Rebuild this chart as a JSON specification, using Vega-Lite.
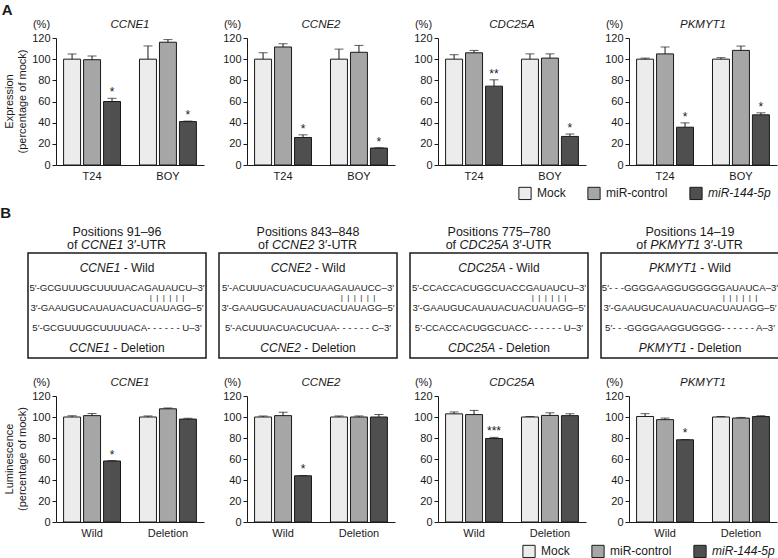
{
  "$schema": "https://vega.github.io/schema/vega-lite/v6.json",
  "padding": {"left": 0, "top": 3, "right": 1, "bottom": 1},
  "background": "white",
  "datasets": {
    "bars": [
      {"panel": "A", "gene": "CCNE1", "group": "T24", "cond": "Mock", "value": 100, "upper": 105, "sig": ""},
      {"panel": "A", "gene": "CCNE1", "group": "T24", "cond": "miR-control", "value": 99.5, "upper": 103, "sig": ""},
      {"panel": "A", "gene": "CCNE1", "group": "T24", "cond": "miR-144-5p", "value": 60, "upper": 63, "sig": "*"},
      {"panel": "A", "gene": "CCNE1", "group": "BOY", "cond": "Mock", "value": 100, "upper": 112.5, "sig": ""},
      {"panel": "A", "gene": "CCNE1", "group": "BOY", "cond": "miR-control", "value": 116, "upper": 118.5, "sig": ""},
      {"panel": "A", "gene": "CCNE1", "group": "BOY", "cond": "miR-144-5p", "value": 41, "upper": 41.5, "sig": "*"},
      {"panel": "A", "gene": "CCNE2", "group": "T24", "cond": "Mock", "value": 100, "upper": 106, "sig": ""},
      {"panel": "A", "gene": "CCNE2", "group": "T24", "cond": "miR-control", "value": 111.5, "upper": 114.5, "sig": ""},
      {"panel": "A", "gene": "CCNE2", "group": "T24", "cond": "miR-144-5p", "value": 26, "upper": 28.5, "sig": "*"},
      {"panel": "A", "gene": "CCNE2", "group": "BOY", "cond": "Mock", "value": 100, "upper": 109.5, "sig": ""},
      {"panel": "A", "gene": "CCNE2", "group": "BOY", "cond": "miR-control", "value": 106.5, "upper": 113, "sig": ""},
      {"panel": "A", "gene": "CCNE2", "group": "BOY", "cond": "miR-144-5p", "value": 16, "upper": 16.3, "sig": "*"},
      {"panel": "A", "gene": "CDC25A", "group": "T24", "cond": "Mock", "value": 100, "upper": 104.2, "sig": ""},
      {"panel": "A", "gene": "CDC25A", "group": "T24", "cond": "miR-control", "value": 106, "upper": 108.3, "sig": ""},
      {"panel": "A", "gene": "CDC25A", "group": "T24", "cond": "miR-144-5p", "value": 74.5, "upper": 80.5, "sig": "**"},
      {"panel": "A", "gene": "CDC25A", "group": "BOY", "cond": "Mock", "value": 100, "upper": 105, "sig": ""},
      {"panel": "A", "gene": "CDC25A", "group": "BOY", "cond": "miR-control", "value": 101, "upper": 105, "sig": ""},
      {"panel": "A", "gene": "CDC25A", "group": "BOY", "cond": "miR-144-5p", "value": 27, "upper": 29.4, "sig": "*"},
      {"panel": "A", "gene": "PKMYT1", "group": "T24", "cond": "Mock", "value": 100, "upper": 101, "sig": ""},
      {"panel": "A", "gene": "PKMYT1", "group": "T24", "cond": "miR-control", "value": 105, "upper": 111.5, "sig": ""},
      {"panel": "A", "gene": "PKMYT1", "group": "T24", "cond": "miR-144-5p", "value": 35.7, "upper": 39.8, "sig": "*"},
      {"panel": "A", "gene": "PKMYT1", "group": "BOY", "cond": "Mock", "value": 100, "upper": 101.4, "sig": ""},
      {"panel": "A", "gene": "PKMYT1", "group": "BOY", "cond": "miR-control", "value": 108.3, "upper": 112.4, "sig": ""},
      {"panel": "A", "gene": "PKMYT1", "group": "BOY", "cond": "miR-144-5p", "value": 47.4, "upper": 49.3, "sig": "*"},
      {"panel": "B", "gene": "CCNE1", "group": "Wild", "cond": "Mock", "value": 100, "upper": 101.2, "sig": ""},
      {"panel": "B", "gene": "CCNE1", "group": "Wild", "cond": "miR-control", "value": 101.3, "upper": 103.3, "sig": ""},
      {"panel": "B", "gene": "CCNE1", "group": "Wild", "cond": "miR-144-5p", "value": 58.1, "upper": 58.5, "sig": "*"},
      {"panel": "B", "gene": "CCNE1", "group": "Deletion", "cond": "Mock", "value": 100, "upper": 101, "sig": ""},
      {"panel": "B", "gene": "CCNE1", "group": "Deletion", "cond": "miR-control", "value": 107.8, "upper": 108.6, "sig": ""},
      {"panel": "B", "gene": "CCNE1", "group": "Deletion", "cond": "miR-144-5p", "value": 98, "upper": 98.8, "sig": ""},
      {"panel": "B", "gene": "CCNE2", "group": "Wild", "cond": "Mock", "value": 100, "upper": 101, "sig": ""},
      {"panel": "B", "gene": "CCNE2", "group": "Wild", "cond": "miR-control", "value": 101.3, "upper": 104.5, "sig": ""},
      {"panel": "B", "gene": "CCNE2", "group": "Wild", "cond": "miR-144-5p", "value": 44, "upper": 44.3, "sig": "*"},
      {"panel": "B", "gene": "CCNE2", "group": "Deletion", "cond": "Mock", "value": 100, "upper": 101, "sig": ""},
      {"panel": "B", "gene": "CCNE2", "group": "Deletion", "cond": "miR-control", "value": 100, "upper": 101, "sig": ""},
      {"panel": "B", "gene": "CCNE2", "group": "Deletion", "cond": "miR-144-5p", "value": 100, "upper": 102.5, "sig": ""},
      {"panel": "B", "gene": "CDC25A", "group": "Wild", "cond": "Mock", "value": 103, "upper": 104.8, "sig": ""},
      {"panel": "B", "gene": "CDC25A", "group": "Wild", "cond": "miR-control", "value": 102.3, "upper": 106.3, "sig": ""},
      {"panel": "B", "gene": "CDC25A", "group": "Wild", "cond": "miR-144-5p", "value": 79.5, "upper": 80.6, "sig": "***"},
      {"panel": "B", "gene": "CDC25A", "group": "Deletion", "cond": "Mock", "value": 100, "upper": 100.5, "sig": ""},
      {"panel": "B", "gene": "CDC25A", "group": "Deletion", "cond": "miR-control", "value": 101.5, "upper": 104, "sig": ""},
      {"panel": "B", "gene": "CDC25A", "group": "Deletion", "cond": "miR-144-5p", "value": 101.3, "upper": 103, "sig": ""},
      {"panel": "B", "gene": "PKMYT1", "group": "Wild", "cond": "Mock", "value": 100.5, "upper": 103.2, "sig": ""},
      {"panel": "B", "gene": "PKMYT1", "group": "Wild", "cond": "miR-control", "value": 97.5, "upper": 99, "sig": ""},
      {"panel": "B", "gene": "PKMYT1", "group": "Wild", "cond": "miR-144-5p", "value": 78.3, "upper": 78.6, "sig": "*"},
      {"panel": "B", "gene": "PKMYT1", "group": "Deletion", "cond": "Mock", "value": 100, "upper": 100.5, "sig": ""},
      {"panel": "B", "gene": "PKMYT1", "group": "Deletion", "cond": "miR-control", "value": 99, "upper": 99.6, "sig": ""},
      {"panel": "B", "gene": "PKMYT1", "group": "Deletion", "cond": "miR-144-5p", "value": 100.4, "upper": 101.2, "sig": ""}
    ],
    "boxes": [
      {"gene": "CCNE1", "pos": "Positions 91–96", "wt": "5′-GCGUUUGCUUUUACAGAUAUCU–3′", "mir": "3′-GAAUGUCAUAUACUACUAUAGG–5′", "del": "5′-GCGUUUGCUUUUACA- - - - - - U–3′"},
      {"gene": "CCNE2", "pos": "Positions 843–848", "wt": "5′-ACUUUACUACUCUAAGAUAUCC–3′", "mir": "3′-GAAUGUCAUAUACUACUAUAGG–5′", "del": "5′-ACUUUACUACUCUAA- - - - - - C–3′"},
      {"gene": "CDC25A", "pos": "Positions 775–780", "wt": "5′-CCACCACUGGCUACCGAUAUCU–3′", "mir": "3′-GAAUGUCAUAUACUACUAUAGG–5′", "del": "5′-CCACCACUGGCUACC- - - - - - U–3′"},
      {"gene": "PKMYT1", "pos": "Positions 14–19", "wt": "5′- - -GGGGAAGGUGGGGGAUAUCA–3′", "mir": "3′-GAAUGUCAUAUACUACUAUAGG–5′", "del": "5′- - -GGGGAAGGUGGGG- - - - - - A–3′"}
    ],
    "spacer": [{"k": 1}]
  },
  "config": {
    "view": {"stroke": null},
    "font": "Liberation Sans",
    "text": {"font": "Liberation Sans", "color": "#1a1a1a"},
    "axis": {"labelFont": "Liberation Sans", "labelFontSize": 11, "labelColor": "#1a1a1a", "titleFont": "Liberation Sans", "titleFontSize": 11, "titleFontWeight": "normal", "titleColor": "#1a1a1a", "domainColor": "#1a1a1a", "tickColor": "#1a1a1a", "grid": false},
    "axisY": {"tickSize": 4, "labelPadding": 2},
    "axisX": {"ticks": false, "labelPadding": 5, "labelAngle": 0},
    "title": {"font": "Liberation Sans", "fontSize": 11.5, "fontStyle": "italic", "fontWeight": "normal", "color": "#1a1a1a", "frame": "group", "baseline": "alphabetic", "offset": -12},
    "legend": {"symbolType": "square", "symbolSize": 150, "symbolStrokeColor": "#1a1a1a", "symbolStrokeWidth": 1, "labelFont": "Liberation Sans", "labelFontSize": 12, "labelColor": "#1a1a1a", "labelOffset": 5, "columnPadding": 19}
  },
  "spacing": 17,
  "vconcat": [
    {
      "spacing": 25,
      "vconcat": [
        {
          "title": {"text": "A", "anchor": "start", "frame": "bounds", "fontSize": 15, "fontWeight": "bold", "fontStyle": "normal", "offset": 0, "dx": -2},
          "bounds": "flush",
          "spacing": 27,
          "hconcat": [
            {
              "width": 1, "height": 127,
              "title": {"text": ["Expression", "(percentage of mock)"], "orient": "left", "anchor": "middle", "frame": "group", "fontSize": 11, "fontStyle": "normal", "lineHeight": 13, "baseline": "bottom", "offset": -13},
              "data": {"name": "spacer"},
              "mark": {"type": "point", "opacity": 0},
              "encoding": {}
            },
            {
              "bounds": "flush",
              "spacing": 43,
              "hconcat": [
                {
                  "width": 148, "height": 127, "title": "CCNE1",
                  "data": {"name": "bars"},
                  "transform": [{"filter": "datum.panel == 'A' && datum.gene == 'CCNE1'"}],
                  "encoding": {
                    "x": {"field": "group", "type": "nominal", "sort": ["T24", "BOY"], "scale": {"paddingInner": 0.25, "paddingOuter": 0.1}, "axis": {"title": null}},
                    "xOffset": {"field": "cond", "type": "nominal", "sort": ["Mock", "miR-control", "miR-144-5p"], "scale": {"paddingInner": 0.15, "paddingOuter": 0}}
                  },
                  "layer": [
                    {"mark": {"type": "bar", "stroke": "#1a1a1a", "strokeWidth": 1},
                     "encoding": {
                       "y": {"field": "value", "type": "quantitative", "scale": {"domain": [0, 120], "nice": false}, "axis": {"title": "(%)", "orient": "left", "values": [0, 20, 40, 60, 80, 100, 120], "titleAngle": 0, "titleX": -15, "titleY": -14, "titleAlign": "center", "titleBaseline": "middle"}},
                       "fill": {"field": "cond", "type": "nominal", "sort": ["Mock", "miR-control", "miR-144-5p"], "scale": {"domain": ["Mock", "miR-control", "miR-144-5p"], "range": ["#ececec", "#a6a6a6", "#4f4f4f"]}, "legend": {"orient": "none", "legendX": 490, "legendY": 148, "direction": "horizontal", "title": null, "labelFontStyle": {"expr": "datum.value == 'miR-144-5p' ? 'italic' : 'normal'"}}}
                     }},
                    {"mark": {"type": "rule", "color": "#1a1a1a", "strokeWidth": 1},
                     "encoding": {"y": {"field": "value", "type": "quantitative", "axis": null}, "y2": {"field": "upper"}}},
                    {"mark": {"type": "tick", "color": "#1a1a1a", "thickness": 1, "size": 9},
                     "encoding": {"y": {"field": "upper", "type": "quantitative", "axis": null}}},
                    {"mark": {"type": "text", "baseline": "alphabetic", "dy": -2, "fontSize": 12},
                     "encoding": {"y": {"field": "upper", "type": "quantitative", "axis": null}, "text": {"field": "sig"}}}
                  ],
                  "resolve": {"axis": {"y": "independent"}}
                },
                {
                  "width": 148, "height": 127, "title": "CCNE2",
                  "data": {"name": "bars"},
                  "transform": [{"filter": "datum.panel == 'A' && datum.gene == 'CCNE2'"}],
                  "encoding": {
                    "x": {"field": "group", "type": "nominal", "sort": ["T24", "BOY"], "scale": {"paddingInner": 0.25, "paddingOuter": 0.1}, "axis": {"title": null}},
                    "xOffset": {"field": "cond", "type": "nominal", "sort": ["Mock", "miR-control", "miR-144-5p"], "scale": {"paddingInner": 0.15, "paddingOuter": 0}}
                  },
                  "layer": [
                    {"mark": {"type": "bar", "stroke": "#1a1a1a", "strokeWidth": 1},
                     "encoding": {
                       "y": {"field": "value", "type": "quantitative", "scale": {"domain": [0, 120], "nice": false}, "axis": {"title": "(%)", "orient": "left", "values": [0, 20, 40, 60, 80, 100, 120], "titleAngle": 0, "titleX": -15, "titleY": -14, "titleAlign": "center", "titleBaseline": "middle"}},
                       "fill": {"field": "cond", "type": "nominal", "sort": ["Mock", "miR-control", "miR-144-5p"], "scale": {"domain": ["Mock", "miR-control", "miR-144-5p"], "range": ["#ececec", "#a6a6a6", "#4f4f4f"]}, "legend": {"orient": "none", "legendX": 490, "legendY": 148, "direction": "horizontal", "title": null, "labelFontStyle": {"expr": "datum.value == 'miR-144-5p' ? 'italic' : 'normal'"}}}
                     }},
                    {"mark": {"type": "rule", "color": "#1a1a1a", "strokeWidth": 1},
                     "encoding": {"y": {"field": "value", "type": "quantitative", "axis": null}, "y2": {"field": "upper"}}},
                    {"mark": {"type": "tick", "color": "#1a1a1a", "thickness": 1, "size": 9},
                     "encoding": {"y": {"field": "upper", "type": "quantitative", "axis": null}}},
                    {"mark": {"type": "text", "baseline": "alphabetic", "dy": -2, "fontSize": 12},
                     "encoding": {"y": {"field": "upper", "type": "quantitative", "axis": null}, "text": {"field": "sig"}}}
                  ],
                  "resolve": {"axis": {"y": "independent"}}
                },
                {
                  "width": 148, "height": 127, "title": "CDC25A",
                  "data": {"name": "bars"},
                  "transform": [{"filter": "datum.panel == 'A' && datum.gene == 'CDC25A'"}],
                  "encoding": {
                    "x": {"field": "group", "type": "nominal", "sort": ["T24", "BOY"], "scale": {"paddingInner": 0.25, "paddingOuter": 0.1}, "axis": {"title": null}},
                    "xOffset": {"field": "cond", "type": "nominal", "sort": ["Mock", "miR-control", "miR-144-5p"], "scale": {"paddingInner": 0.15, "paddingOuter": 0}}
                  },
                  "layer": [
                    {"mark": {"type": "bar", "stroke": "#1a1a1a", "strokeWidth": 1},
                     "encoding": {
                       "y": {"field": "value", "type": "quantitative", "scale": {"domain": [0, 120], "nice": false}, "axis": {"title": "(%)", "orient": "left", "values": [0, 20, 40, 60, 80, 100, 120], "titleAngle": 0, "titleX": -15, "titleY": -14, "titleAlign": "center", "titleBaseline": "middle"}},
                       "fill": {"field": "cond", "type": "nominal", "sort": ["Mock", "miR-control", "miR-144-5p"], "scale": {"domain": ["Mock", "miR-control", "miR-144-5p"], "range": ["#ececec", "#a6a6a6", "#4f4f4f"]}, "legend": {"orient": "none", "legendX": 490, "legendY": 148, "direction": "horizontal", "title": null, "labelFontStyle": {"expr": "datum.value == 'miR-144-5p' ? 'italic' : 'normal'"}}}
                     }},
                    {"mark": {"type": "rule", "color": "#1a1a1a", "strokeWidth": 1},
                     "encoding": {"y": {"field": "value", "type": "quantitative", "axis": null}, "y2": {"field": "upper"}}},
                    {"mark": {"type": "tick", "color": "#1a1a1a", "thickness": 1, "size": 9},
                     "encoding": {"y": {"field": "upper", "type": "quantitative", "axis": null}}},
                    {"mark": {"type": "text", "baseline": "alphabetic", "dy": -2, "fontSize": 12},
                     "encoding": {"y": {"field": "upper", "type": "quantitative", "axis": null}, "text": {"field": "sig"}}}
                  ],
                  "resolve": {"axis": {"y": "independent"}}
                },
                {
                  "width": 148, "height": 127, "title": "PKMYT1",
                  "data": {"name": "bars"},
                  "transform": [{"filter": "datum.panel == 'A' && datum.gene == 'PKMYT1'"}],
                  "encoding": {
                    "x": {"field": "group", "type": "nominal", "sort": ["T24", "BOY"], "scale": {"paddingInner": 0.25, "paddingOuter": 0.1}, "axis": {"title": null}},
                    "xOffset": {"field": "cond", "type": "nominal", "sort": ["Mock", "miR-control", "miR-144-5p"], "scale": {"paddingInner": 0.15, "paddingOuter": 0}}
                  },
                  "layer": [
                    {"mark": {"type": "bar", "stroke": "#1a1a1a", "strokeWidth": 1},
                     "encoding": {
                       "y": {"field": "value", "type": "quantitative", "scale": {"domain": [0, 120], "nice": false}, "axis": {"title": "(%)", "orient": "left", "values": [0, 20, 40, 60, 80, 100, 120], "titleAngle": 0, "titleX": -15, "titleY": -14, "titleAlign": "center", "titleBaseline": "middle"}},
                       "fill": {"field": "cond", "type": "nominal", "sort": ["Mock", "miR-control", "miR-144-5p"], "scale": {"domain": ["Mock", "miR-control", "miR-144-5p"], "range": ["#ececec", "#a6a6a6", "#4f4f4f"]}, "legend": {"orient": "none", "legendX": 490, "legendY": 148, "direction": "horizontal", "title": null, "labelFontStyle": {"expr": "datum.value == 'miR-144-5p' ? 'italic' : 'normal'"}}}
                     }},
                    {"mark": {"type": "rule", "color": "#1a1a1a", "strokeWidth": 1},
                     "encoding": {"y": {"field": "value", "type": "quantitative", "axis": null}, "y2": {"field": "upper"}}},
                    {"mark": {"type": "tick", "color": "#1a1a1a", "thickness": 1, "size": 9},
                     "encoding": {"y": {"field": "upper", "type": "quantitative", "axis": null}}},
                    {"mark": {"type": "text", "baseline": "alphabetic", "dy": -2, "fontSize": 12},
                     "encoding": {"y": {"field": "upper", "type": "quantitative", "axis": null}, "text": {"field": "sig"}}}
                  ],
                  "resolve": {"axis": {"y": "independent"}}
                }
              ]
            }
          ]
        },
        {
          "title": {"text": "B", "anchor": "start", "frame": "bounds", "fontSize": 15, "fontWeight": "bold", "fontStyle": "normal", "offset": 4, "dx": -27},
          "spacing": 11,
          "hconcat": [
            {
              "spacing": 1,
              "vconcat": [
                {
                  "width": 178, "height": 26,
                  "data": {"name": "boxes"},
                  "transform": [{"filter": "datum.gene == 'CCNE1'"}],
                  "layer": [
                    {"mark": {"type": "text", "fontSize": 12.5}, "encoding": {"y": {"datum": "p1", "type": "ordinal", "scale": {"type": "point", "domain": ["p1", "p2"], "padding": 0.5}, "axis": null}, "text": {"field": "pos"}}},
                    {"mark": {"type": "text", "fontSize": 12.5, "align": "right", "dx": -39.45}, "encoding": {"y": {"datum": "p2", "type": "ordinal"}, "text": {"value": "of"}}},
                    {"mark": {"type": "text", "fontSize": 12.5, "fontStyle": "italic", "dx": -14.75}, "encoding": {"y": {"datum": "p2", "type": "ordinal"}, "text": {"field": "gene"}}},
                    {"mark": {"type": "text", "fontSize": 12.5, "align": "left", "dx": 9.95}, "encoding": {"y": {"datum": "p2", "type": "ordinal"}, "text": {"value": "3′-UTR"}}}
                  ]
                },
                {
                  "width": 178, "height": 105,
                  "view": {"stroke": "#1a1a1a", "strokeWidth": 1.5},
                  "data": {"name": "boxes"},
                  "transform": [{"filter": "datum.gene == 'CCNE1'"}],
                  "layer": [
                    {"mark": {"type": "text", "fontSize": 12, "fontStyle": "italic", "dx": -17}, "encoding": {"y": {"datum": "wild", "type": "ordinal", "scale": {"type": "point", "domain": ["wild", "s1", "s2", "s3", "del"], "padding": 0.625, "align": 0.6}, "axis": null}, "text": {"field": "gene"}}},
                    {"mark": {"type": "text", "fontSize": 12, "align": "left", "dx": 6.65}, "encoding": {"y": {"datum": "wild", "type": "ordinal"}, "text": {"value": "- Wild"}}},
                    {"mark": {"type": "text", "fontSize": 9.6}, "encoding": {"y": {"datum": "s1", "type": "ordinal"}, "text": {"field": "wt"}}},
                    {"mark": {"type": "text", "fontSize": 8, "dx": 50, "dy": -10}, "encoding": {"y": {"datum": "s2", "type": "ordinal"}, "text": {"value": "|\u00a0\u00a0|\u00a0\u00a0|\u00a0\u00a0|\u00a0\u00a0|\u00a0\u00a0|"}}},
                    {"mark": {"type": "text", "fontSize": 9.6}, "encoding": {"y": {"datum": "s2", "type": "ordinal"}, "text": {"field": "mir"}}},
                    {"mark": {"type": "text", "fontSize": 9.6}, "encoding": {"y": {"datum": "s3", "type": "ordinal"}, "text": {"field": "del"}}},
                    {"mark": {"type": "text", "fontSize": 12, "fontStyle": "italic", "dx": -27.3}, "encoding": {"y": {"datum": "del", "type": "ordinal"}, "text": {"field": "gene"}}},
                    {"mark": {"type": "text", "fontSize": 12, "align": "left", "dx": -3.65}, "encoding": {"y": {"datum": "del", "type": "ordinal"}, "text": {"value": "- Deletion"}}}
                  ]
                }
              ]
            },
            {
              "spacing": 1,
              "vconcat": [
                {
                  "width": 178, "height": 26,
                  "data": {"name": "boxes"},
                  "transform": [{"filter": "datum.gene == 'CCNE2'"}],
                  "layer": [
                    {"mark": {"type": "text", "fontSize": 12.5}, "encoding": {"y": {"datum": "p1", "type": "ordinal", "scale": {"type": "point", "domain": ["p1", "p2"], "padding": 0.5}, "axis": null}, "text": {"field": "pos"}}},
                    {"mark": {"type": "text", "fontSize": 12.5, "align": "right", "dx": -39.45}, "encoding": {"y": {"datum": "p2", "type": "ordinal"}, "text": {"value": "of"}}},
                    {"mark": {"type": "text", "fontSize": 12.5, "fontStyle": "italic", "dx": -14.75}, "encoding": {"y": {"datum": "p2", "type": "ordinal"}, "text": {"field": "gene"}}},
                    {"mark": {"type": "text", "fontSize": 12.5, "align": "left", "dx": 9.95}, "encoding": {"y": {"datum": "p2", "type": "ordinal"}, "text": {"value": "3′-UTR"}}}
                  ]
                },
                {
                  "width": 178, "height": 105,
                  "view": {"stroke": "#1a1a1a", "strokeWidth": 1.5},
                  "data": {"name": "boxes"},
                  "transform": [{"filter": "datum.gene == 'CCNE2'"}],
                  "layer": [
                    {"mark": {"type": "text", "fontSize": 12, "fontStyle": "italic", "dx": -17}, "encoding": {"y": {"datum": "wild", "type": "ordinal", "scale": {"type": "point", "domain": ["wild", "s1", "s2", "s3", "del"], "padding": 0.625, "align": 0.6}, "axis": null}, "text": {"field": "gene"}}},
                    {"mark": {"type": "text", "fontSize": 12, "align": "left", "dx": 6.65}, "encoding": {"y": {"datum": "wild", "type": "ordinal"}, "text": {"value": "- Wild"}}},
                    {"mark": {"type": "text", "fontSize": 9.6}, "encoding": {"y": {"datum": "s1", "type": "ordinal"}, "text": {"field": "wt"}}},
                    {"mark": {"type": "text", "fontSize": 8, "dx": 50, "dy": -10}, "encoding": {"y": {"datum": "s2", "type": "ordinal"}, "text": {"value": "|\u00a0\u00a0|\u00a0\u00a0|\u00a0\u00a0|\u00a0\u00a0|\u00a0\u00a0|"}}},
                    {"mark": {"type": "text", "fontSize": 9.6}, "encoding": {"y": {"datum": "s2", "type": "ordinal"}, "text": {"field": "mir"}}},
                    {"mark": {"type": "text", "fontSize": 9.6}, "encoding": {"y": {"datum": "s3", "type": "ordinal"}, "text": {"field": "del"}}},
                    {"mark": {"type": "text", "fontSize": 12, "fontStyle": "italic", "dx": -27.3}, "encoding": {"y": {"datum": "del", "type": "ordinal"}, "text": {"field": "gene"}}},
                    {"mark": {"type": "text", "fontSize": 12, "align": "left", "dx": -3.65}, "encoding": {"y": {"datum": "del", "type": "ordinal"}, "text": {"value": "- Deletion"}}}
                  ]
                }
              ]
            },
            {
              "spacing": 1,
              "vconcat": [
                {
                  "width": 178, "height": 26,
                  "data": {"name": "boxes"},
                  "transform": [{"filter": "datum.gene == 'CDC25A'"}],
                  "layer": [
                    {"mark": {"type": "text", "fontSize": 12.5}, "encoding": {"y": {"datum": "p1", "type": "ordinal", "scale": {"type": "point", "domain": ["p1", "p2"], "padding": 0.5}, "axis": null}, "text": {"field": "pos"}}},
                    {"mark": {"type": "text", "fontSize": 12.5, "align": "right", "dx": -42.9}, "encoding": {"y": {"datum": "p2", "type": "ordinal"}, "text": {"value": "of"}}},
                    {"mark": {"type": "text", "fontSize": 12.5, "fontStyle": "italic", "dx": -14.75}, "encoding": {"y": {"datum": "p2", "type": "ordinal"}, "text": {"field": "gene"}}},
                    {"mark": {"type": "text", "fontSize": 12.5, "align": "left", "dx": 13.4}, "encoding": {"y": {"datum": "p2", "type": "ordinal"}, "text": {"value": "3′-UTR"}}}
                  ]
                },
                {
                  "width": 178, "height": 105,
                  "view": {"stroke": "#1a1a1a", "strokeWidth": 1.5},
                  "data": {"name": "boxes"},
                  "transform": [{"filter": "datum.gene == 'CDC25A'"}],
                  "layer": [
                    {"mark": {"type": "text", "fontSize": 12, "fontStyle": "italic", "dx": -17}, "encoding": {"y": {"datum": "wild", "type": "ordinal", "scale": {"type": "point", "domain": ["wild", "s1", "s2", "s3", "del"], "padding": 0.625, "align": 0.6}, "axis": null}, "text": {"field": "gene"}}},
                    {"mark": {"type": "text", "fontSize": 12, "align": "left", "dx": 9.95}, "encoding": {"y": {"datum": "wild", "type": "ordinal"}, "text": {"value": "- Wild"}}},
                    {"mark": {"type": "text", "fontSize": 9.6}, "encoding": {"y": {"datum": "s1", "type": "ordinal"}, "text": {"field": "wt"}}},
                    {"mark": {"type": "text", "fontSize": 8, "dx": 50, "dy": -10}, "encoding": {"y": {"datum": "s2", "type": "ordinal"}, "text": {"value": "|\u00a0\u00a0|\u00a0\u00a0|\u00a0\u00a0|\u00a0\u00a0|\u00a0\u00a0|"}}},
                    {"mark": {"type": "text", "fontSize": 9.6}, "encoding": {"y": {"datum": "s2", "type": "ordinal"}, "text": {"field": "mir"}}},
                    {"mark": {"type": "text", "fontSize": 9.6}, "encoding": {"y": {"datum": "s3", "type": "ordinal"}, "text": {"field": "del"}}},
                    {"mark": {"type": "text", "fontSize": 12, "fontStyle": "italic", "dx": -27.3}, "encoding": {"y": {"datum": "del", "type": "ordinal"}, "text": {"field": "gene"}}},
                    {"mark": {"type": "text", "fontSize": 12, "align": "left", "dx": -0.35}, "encoding": {"y": {"datum": "del", "type": "ordinal"}, "text": {"value": "- Deletion"}}}
                  ]
                }
              ]
            },
            {
              "spacing": 1,
              "vconcat": [
                {
                  "width": 178, "height": 26,
                  "data": {"name": "boxes"},
                  "transform": [{"filter": "datum.gene == 'PKMYT1'"}],
                  "layer": [
                    {"mark": {"type": "text", "fontSize": 12.5}, "encoding": {"y": {"datum": "p1", "type": "ordinal", "scale": {"type": "point", "domain": ["p1", "p2"], "padding": 0.5}, "axis": null}, "text": {"field": "pos"}}},
                    {"mark": {"type": "text", "fontSize": 12.5, "align": "right", "dx": -43.25}, "encoding": {"y": {"datum": "p2", "type": "ordinal"}, "text": {"value": "of"}}},
                    {"mark": {"type": "text", "fontSize": 12.5, "fontStyle": "italic", "dx": -14.75}, "encoding": {"y": {"datum": "p2", "type": "ordinal"}, "text": {"field": "gene"}}},
                    {"mark": {"type": "text", "fontSize": 12.5, "align": "left", "dx": 13.75}, "encoding": {"y": {"datum": "p2", "type": "ordinal"}, "text": {"value": "3′-UTR"}}}
                  ]
                },
                {
                  "width": 178, "height": 105,
                  "view": {"stroke": "#1a1a1a", "strokeWidth": 1.5},
                  "data": {"name": "boxes"},
                  "transform": [{"filter": "datum.gene == 'PKMYT1'"}],
                  "layer": [
                    {"mark": {"type": "text", "fontSize": 12, "fontStyle": "italic", "dx": -17}, "encoding": {"y": {"datum": "wild", "type": "ordinal", "scale": {"type": "point", "domain": ["wild", "s1", "s2", "s3", "del"], "padding": 0.625, "align": 0.6}, "axis": null}, "text": {"field": "gene"}}},
                    {"mark": {"type": "text", "fontSize": 12, "align": "left", "dx": 10.3}, "encoding": {"y": {"datum": "wild", "type": "ordinal"}, "text": {"value": "- Wild"}}},
                    {"mark": {"type": "text", "fontSize": 9.6}, "encoding": {"y": {"datum": "s1", "type": "ordinal"}, "text": {"field": "wt"}}},
                    {"mark": {"type": "text", "fontSize": 8, "dx": 50, "dy": -10}, "encoding": {"y": {"datum": "s2", "type": "ordinal"}, "text": {"value": "|\u00a0\u00a0|\u00a0\u00a0|\u00a0\u00a0|\u00a0\u00a0|\u00a0\u00a0|"}}},
                    {"mark": {"type": "text", "fontSize": 9.6}, "encoding": {"y": {"datum": "s2", "type": "ordinal"}, "text": {"field": "mir"}}},
                    {"mark": {"type": "text", "fontSize": 9.6}, "encoding": {"y": {"datum": "s3", "type": "ordinal"}, "text": {"field": "del"}}},
                    {"mark": {"type": "text", "fontSize": 12, "fontStyle": "italic", "dx": -27.3}, "encoding": {"y": {"datum": "del", "type": "ordinal"}, "text": {"field": "gene"}}},
                    {"mark": {"type": "text", "fontSize": 12, "align": "left", "dx": 0}, "encoding": {"y": {"datum": "del", "type": "ordinal"}, "text": {"value": "- Deletion"}}}
                  ]
                }
              ]
            }
          ]
        }
      ]
    },
    {
      "bounds": "flush",
      "spacing": 27,
      "hconcat": [
        {
          "width": 1, "height": 126,
          "title": {"text": ["Luminescence", "(percentage of mock)"], "orient": "left", "anchor": "middle", "frame": "group", "fontSize": 11, "fontStyle": "normal", "lineHeight": 13, "baseline": "bottom", "offset": -13},
          "data": {"name": "spacer"},
          "mark": {"type": "point", "opacity": 0},
          "encoding": {}
        },
        {
          "bounds": "flush",
          "spacing": 43,
          "hconcat": [
            {
              "width": 148, "height": 126, "title": "CCNE1",
              "data": {"name": "bars"},
              "transform": [{"filter": "datum.panel == 'B' && datum.gene == 'CCNE1'"}],
              "encoding": {
                "x": {"field": "group", "type": "nominal", "sort": ["Wild", "Deletion"], "scale": {"paddingInner": 0.25, "paddingOuter": 0.1}, "axis": {"title": null}},
                "xOffset": {"field": "cond", "type": "nominal", "sort": ["Mock", "miR-control", "miR-144-5p"], "scale": {"paddingInner": 0.15, "paddingOuter": 0}}
              },
              "layer": [
                {"mark": {"type": "bar", "stroke": "#1a1a1a", "strokeWidth": 1},
                 "encoding": {
                   "y": {"field": "value", "type": "quantitative", "scale": {"domain": [0, 120], "nice": false}, "axis": {"title": "(%)", "orient": "left", "values": [0, 20, 40, 60, 80, 100, 120], "titleAngle": 0, "titleX": -15, "titleY": -14, "titleAlign": "center", "titleBaseline": "middle"}},
                   "color": {"field": "cond", "type": "nominal", "sort": ["Mock", "miR-control", "miR-144-5p"], "scale": {"range": ["#ececec", "#a6a6a6", "#4f4f4f"]}, "legend": {"orient": "none", "legendX": 494, "legendY": 506, "direction": "horizontal", "title": null, "labelFontStyle": {"expr": "datum.value == 'miR-144-5p' ? 'italic' : 'normal'"}}}
                 }},
                {"mark": {"type": "rule", "color": "#1a1a1a", "strokeWidth": 1},
                 "encoding": {"y": {"field": "value", "type": "quantitative", "axis": null}, "y2": {"field": "upper"}}},
                {"mark": {"type": "tick", "color": "#1a1a1a", "thickness": 1, "size": 9},
                 "encoding": {"y": {"field": "upper", "type": "quantitative", "axis": null}}},
                {"mark": {"type": "text", "baseline": "alphabetic", "dy": -2, "fontSize": 12},
                 "encoding": {"y": {"field": "upper", "type": "quantitative", "axis": null}, "text": {"field": "sig"}}}
              ],
              "resolve": {"axis": {"y": "independent"}}
            },
            {
              "width": 148, "height": 126, "title": "CCNE2",
              "data": {"name": "bars"},
              "transform": [{"filter": "datum.panel == 'B' && datum.gene == 'CCNE2'"}],
              "encoding": {
                "x": {"field": "group", "type": "nominal", "sort": ["Wild", "Deletion"], "scale": {"paddingInner": 0.25, "paddingOuter": 0.1}, "axis": {"title": null}},
                "xOffset": {"field": "cond", "type": "nominal", "sort": ["Mock", "miR-control", "miR-144-5p"], "scale": {"paddingInner": 0.15, "paddingOuter": 0}}
              },
              "layer": [
                {"mark": {"type": "bar", "stroke": "#1a1a1a", "strokeWidth": 1},
                 "encoding": {
                   "y": {"field": "value", "type": "quantitative", "scale": {"domain": [0, 120], "nice": false}, "axis": {"title": "(%)", "orient": "left", "values": [0, 20, 40, 60, 80, 100, 120], "titleAngle": 0, "titleX": -15, "titleY": -14, "titleAlign": "center", "titleBaseline": "middle"}},
                   "color": {"field": "cond", "type": "nominal", "sort": ["Mock", "miR-control", "miR-144-5p"], "scale": {"range": ["#ececec", "#a6a6a6", "#4f4f4f"]}, "legend": {"orient": "none", "legendX": 494, "legendY": 506, "direction": "horizontal", "title": null, "labelFontStyle": {"expr": "datum.value == 'miR-144-5p' ? 'italic' : 'normal'"}}}
                 }},
                {"mark": {"type": "rule", "color": "#1a1a1a", "strokeWidth": 1},
                 "encoding": {"y": {"field": "value", "type": "quantitative", "axis": null}, "y2": {"field": "upper"}}},
                {"mark": {"type": "tick", "color": "#1a1a1a", "thickness": 1, "size": 9},
                 "encoding": {"y": {"field": "upper", "type": "quantitative", "axis": null}}},
                {"mark": {"type": "text", "baseline": "alphabetic", "dy": -2, "fontSize": 12},
                 "encoding": {"y": {"field": "upper", "type": "quantitative", "axis": null}, "text": {"field": "sig"}}}
              ],
              "resolve": {"axis": {"y": "independent"}}
            },
            {
              "width": 148, "height": 126, "title": "CDC25A",
              "data": {"name": "bars"},
              "transform": [{"filter": "datum.panel == 'B' && datum.gene == 'CDC25A'"}],
              "encoding": {
                "x": {"field": "group", "type": "nominal", "sort": ["Wild", "Deletion"], "scale": {"paddingInner": 0.25, "paddingOuter": 0.1}, "axis": {"title": null}},
                "xOffset": {"field": "cond", "type": "nominal", "sort": ["Mock", "miR-control", "miR-144-5p"], "scale": {"paddingInner": 0.15, "paddingOuter": 0}}
              },
              "layer": [
                {"mark": {"type": "bar", "stroke": "#1a1a1a", "strokeWidth": 1},
                 "encoding": {
                   "y": {"field": "value", "type": "quantitative", "scale": {"domain": [0, 120], "nice": false}, "axis": {"title": "(%)", "orient": "left", "values": [0, 20, 40, 60, 80, 100, 120], "titleAngle": 0, "titleX": -15, "titleY": -14, "titleAlign": "center", "titleBaseline": "middle"}},
                   "color": {"field": "cond", "type": "nominal", "sort": ["Mock", "miR-control", "miR-144-5p"], "scale": {"range": ["#ececec", "#a6a6a6", "#4f4f4f"]}, "legend": {"orient": "none", "legendX": 494, "legendY": 506, "direction": "horizontal", "title": null, "labelFontStyle": {"expr": "datum.value == 'miR-144-5p' ? 'italic' : 'normal'"}}}
                 }},
                {"mark": {"type": "rule", "color": "#1a1a1a", "strokeWidth": 1},
                 "encoding": {"y": {"field": "value", "type": "quantitative", "axis": null}, "y2": {"field": "upper"}}},
                {"mark": {"type": "tick", "color": "#1a1a1a", "thickness": 1, "size": 9},
                 "encoding": {"y": {"field": "upper", "type": "quantitative", "axis": null}}},
                {"mark": {"type": "text", "baseline": "alphabetic", "dy": -2, "fontSize": 12},
                 "encoding": {"y": {"field": "upper", "type": "quantitative", "axis": null}, "text": {"field": "sig"}}}
              ],
              "resolve": {"axis": {"y": "independent"}}
            },
            {
              "width": 148, "height": 126, "title": "PKMYT1",
              "data": {"name": "bars"},
              "transform": [{"filter": "datum.panel == 'B' && datum.gene == 'PKMYT1'"}],
              "encoding": {
                "x": {"field": "group", "type": "nominal", "sort": ["Wild", "Deletion"], "scale": {"paddingInner": 0.25, "paddingOuter": 0.1}, "axis": {"title": null}},
                "xOffset": {"field": "cond", "type": "nominal", "sort": ["Mock", "miR-control", "miR-144-5p"], "scale": {"paddingInner": 0.15, "paddingOuter": 0}}
              },
              "layer": [
                {"mark": {"type": "bar", "stroke": "#1a1a1a", "strokeWidth": 1},
                 "encoding": {
                   "y": {"field": "value", "type": "quantitative", "scale": {"domain": [0, 120], "nice": false}, "axis": {"title": "(%)", "orient": "left", "values": [0, 20, 40, 60, 80, 100, 120], "titleAngle": 0, "titleX": -15, "titleY": -14, "titleAlign": "center", "titleBaseline": "middle"}},
                   "color": {"field": "cond", "type": "nominal", "sort": ["Mock", "miR-control", "miR-144-5p"], "scale": {"range": ["#ececec", "#a6a6a6", "#4f4f4f"]}, "legend": {"orient": "none", "legendX": 494, "legendY": 506, "direction": "horizontal", "title": null, "labelFontStyle": {"expr": "datum.value == 'miR-144-5p' ? 'italic' : 'normal'"}}}
                 }},
                {"mark": {"type": "rule", "color": "#1a1a1a", "strokeWidth": 1},
                 "encoding": {"y": {"field": "value", "type": "quantitative", "axis": null}, "y2": {"field": "upper"}}},
                {"mark": {"type": "tick", "color": "#1a1a1a", "thickness": 1, "size": 9},
                 "encoding": {"y": {"field": "upper", "type": "quantitative", "axis": null}}},
                {"mark": {"type": "text", "baseline": "alphabetic", "dy": -2, "fontSize": 12},
                 "encoding": {"y": {"field": "upper", "type": "quantitative", "axis": null}, "text": {"field": "sig"}}}
              ],
              "resolve": {"axis": {"y": "independent"}}
            }
          ]
        }
      ]
    }
  ]
}
